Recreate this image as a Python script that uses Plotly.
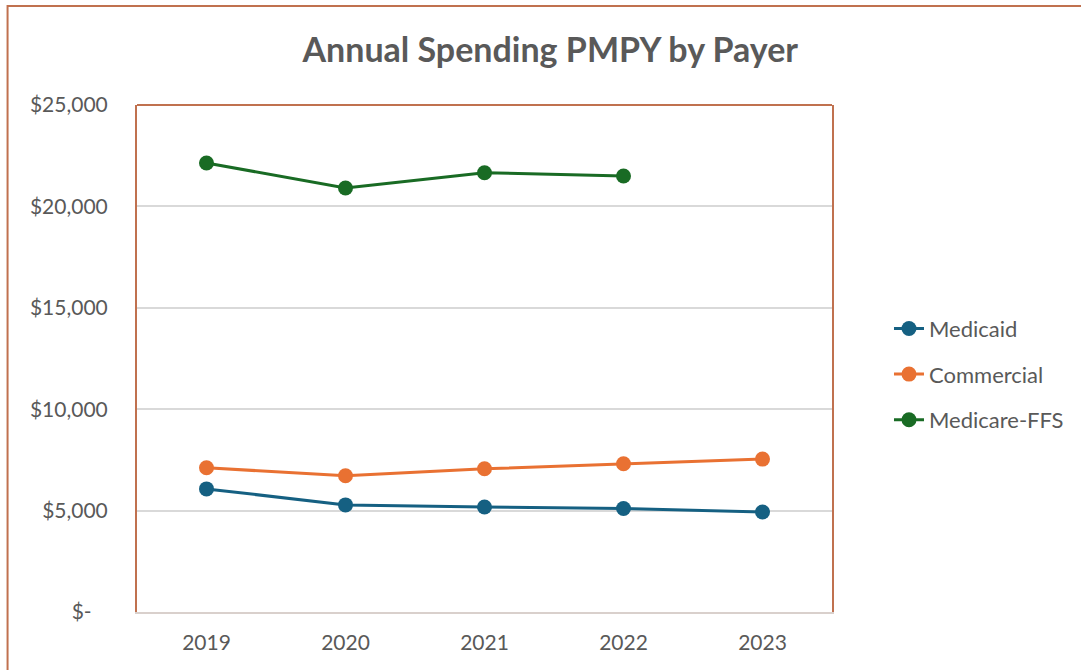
import plotly.graph_objects as go

years = ["2019", "2020", "2021", "2022", "2023"]
medicaid = [6070, 5280, 5180, 5100, 4930]
commercial = [7110, 6720, 7060, 7310, 7540]
medicare_ffs = [22140, 20910, 21660, 21500, None]

tick_vals = [0, 5000, 10000, 15000, 20000, 25000]
tick_text = ["$-\u00a0\u00a0\u00a0", "$5,000", "$10,000", "$15,000", "$20,000", "$25,000"]

series = [
    ("Medicaid", medicaid, "#156082"),
    ("Commercial", commercial, "#E97132"),
    ("Medicare-FFS", medicare_ffs, "#196B24"),
]

BORDER = "#C0714F"
TEXT = "#595959"
FONT = "Lato, Calibri, sans-serif"

fig = go.Figure()
for name, vals, color in series:
    fig.add_trace(go.Scatter(
        x=years, y=vals, name=name, mode="lines+markers",
        line=dict(color=color, width=3),
        marker=dict(color=color, size=15),
        legendgroup=name,
    ))

fig.update_layout(
    width=1081, height=670,
    margin=dict(l=137, r=246, t=105, b=58),
    paper_bgcolor="white", plot_bgcolor="white",
    title=dict(text="<b>Annual Spending PMPY by Payer</b>", x=0.509, xanchor="center",
               y=1 - 50 / 670, yanchor="middle",
               font=dict(family=FONT, size=34, color=TEXT)),
    font=dict(family=FONT, color=TEXT),
    legend=dict(x=1.082, xanchor="left", y=0.469, yanchor="middle",
                font=dict(family=FONT, size=22, color=TEXT),
                tracegroupgap=14, bgcolor="rgba(0,0,0,0)"),
    showlegend=True,
)
fig.update_xaxes(
    type="category", range=[-0.5, 4.5],
    showline=True, linecolor="#D9D0CC", linewidth=2,
    showgrid=False, ticks="outside", ticklen=11, tickcolor="rgba(0,0,0,0)",
    tickfont=dict(family=FONT, size=21, color=TEXT),
)
fig.update_yaxes(
    range=[0, 25000], tickvals=tick_vals, ticktext=tick_text,
    showline=True, linecolor=BORDER, linewidth=2, mirror=True,
    showgrid=True, gridcolor="#D9D9D9", gridwidth=1.5,
    zeroline=False,
    ticks="outside", ticklen=23, tickcolor="rgba(0,0,0,0)",
    tickfont=dict(family=FONT, size=21, color=TEXT),
)
# top border of plot area
fig.add_shape(type="line", xref="paper", yref="paper", x0=0, x1=1, y0=1, y1=1,
              line=dict(color=BORDER, width=2))
# outer chart border
fig.add_shape(type="rect", xref="paper", yref="paper",
              x0=(7 - 137) / 698, x1=2.0, y0=-1.0, y1=(612 - 6) / 507,
              line=dict(color=BORDER, width=2), layer="above")

fig.write_html("out.html", config={"displayModeBar": False},
               post_script="document.body.style.margin='0';")
